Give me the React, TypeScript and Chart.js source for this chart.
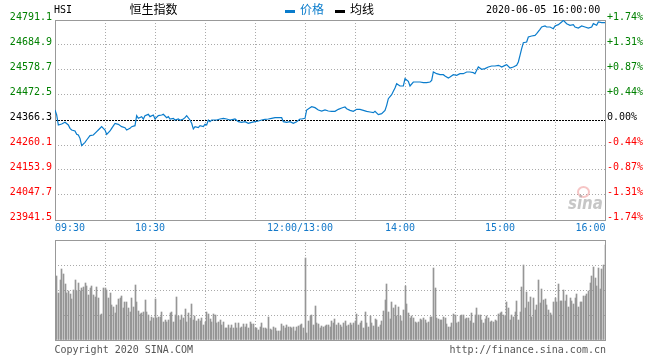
import React, { useEffect, useRef } from "react";
import { Chart, registerables } from "chart.js";

Chart.register(...registerables);

// ---------- data ----------
const PREV_CLOSE = 24366.3;
const priceTicks = [23941.5, 24047.7, 24153.9, 24260.1, 24366.3, 24472.5, 24578.7, 24684.9, 24791.1];
const gridMinutes = [0, 30, 60, 90, 120, 150, 180, 210, 240, 270, 300, 330];
const timeLabelMinutes = [0, 60, 150, 210, 270, 330];
const timeLabels = ["09:30", "10:30", "12:00/13:00", "14:00", "15:00", "16:00"];
const volumeTicks = [0, 25, 50, 75, 100];

// minutes into the trading session (09:30 = 0, 12:00/13:00 = 150, 16:00 = 330)
const priceMinute = [
  0, 1, 2, 4, 6, 8, 9, 10, 12, 13, 14, 15, 16, 18, 19, 21, 23, 25, 26, 28,
  29, 30, 31, 33, 34, 36, 38, 40, 42, 43, 45, 46, 48, 49, 50, 52, 53, 54, 56, 57,
  59, 60, 62, 64, 65, 67, 68, 69, 71, 72, 74, 75, 77, 78, 79, 81, 82, 83, 84, 86,
  87, 89, 90, 91, 92, 93, 94, 97, 99, 101, 103, 105, 107, 108, 110, 112, 114, 116, 118, 120,
  122, 124, 126, 128, 130, 132, 134, 136, 137, 139, 141, 143, 145, 147, 148, 150,
  151, 153, 154, 156, 158, 160, 162, 164, 166, 168, 170, 172, 174, 175, 177, 179, 181, 183, 185, 187,
  189, 191, 192, 194, 196, 198, 199, 200, 202, 203, 204, 205, 207, 209, 210, 212, 213, 215, 217, 219,
  221, 223, 225, 226, 227, 229, 231, 233, 234, 236, 237, 239, 241, 243, 245, 247, 249, 251, 252, 253,
  254, 256, 258, 260, 262, 264, 266, 267, 268, 270, 271, 273, 275, 277, 278, 279, 280, 281, 283, 284,
  286, 288, 289, 291, 292, 294, 295, 297, 299, 300, 302, 304, 305, 307, 309, 311, 312, 314, 316, 318,
  320, 322, 323, 325, 326, 328, 330,
];
const priceValue = [
  24408.8, 24387.5, 24345.1, 24349.3, 24356.4, 24345.1, 24330.9, 24323.8, 24319.6, 24305.4,
  24302.6, 24288.4, 24257.3, 24271.4, 24281.3, 24299.8, 24302.6, 24316.7, 24323.8, 24338.0,
  24330.9, 24323.8, 24305.4, 24319.6, 24330.9, 24352.1, 24347.9, 24338.0, 24333.7, 24323.8,
  24330.9, 24338.0, 24342.2, 24384.7, 24373.4, 24380.5, 24370.5, 24384.7, 24390.4, 24380.5,
  24387.5, 24370.5, 24384.7, 24387.5, 24390.4, 24376.2, 24380.5, 24370.5, 24373.4, 24366.3,
  24370.5, 24364.9, 24370.5, 24376.2, 24384.7, 24366.3, 24352.1, 24328.1, 24338.0, 24333.7,
  24342.2, 24338.0, 24347.9, 24345.1, 24366.3, 24359.2, 24366.3, 24366.3, 24370.5, 24373.4,
  24370.5, 24366.3, 24369.1, 24370.5, 24359.2, 24356.4, 24359.2, 24352.1, 24356.4, 24359.2,
  24362.1, 24366.3, 24369.1, 24370.5, 24373.4, 24376.2, 24376.2, 24376.2, 24359.2, 24356.4,
  24359.2, 24352.1, 24359.2, 24370.5, 24370.5, 24373.4,
  24408.8, 24418.7, 24422.9, 24418.7, 24408.8, 24404.5, 24408.8, 24404.5, 24403.1, 24403.1,
  24411.6, 24417.3, 24421.5, 24414.4, 24407.4, 24403.1, 24411.6, 24411.6, 24407.4, 24403.1,
  24400.3, 24397.4, 24403.1, 24389.0, 24393.2, 24407.4, 24428.6, 24456.9, 24473.9, 24488.1,
  24502.2, 24520.6, 24510.7, 24510.7, 24541.9, 24530.6, 24510.7, 24527.7, 24527.7, 24527.7,
  24524.9, 24524.9, 24527.7, 24534.8, 24570.2, 24563.1, 24558.9, 24558.9, 24553.2, 24544.7,
  24549.0, 24558.9, 24556.1, 24563.1, 24563.1, 24570.2, 24570.2, 24567.4, 24563.1, 24577.3,
  24591.4, 24581.5, 24584.4, 24591.4, 24595.7, 24595.7, 24598.5, 24595.7, 24591.4, 24598.5,
  24601.4, 24587.2, 24591.4, 24598.5, 24612.7, 24641.0, 24669.3, 24694.8, 24697.6, 24718.9,
  24723.1, 24726.0, 24733.0, 24751.5, 24761.4, 24765.6, 24761.4, 24761.4, 24754.3, 24765.6,
  24771.3, 24782.6, 24789.7, 24775.5, 24768.5, 24771.3, 24761.4, 24757.1, 24765.6, 24761.4,
  24757.1, 24761.4, 24775.5, 24768.5, 24782.6, 24779.8, 24779.8,
];

// volume per minute (relative units), 09:31–11:59
const morningVolume = [
  64, 47, 60, 71, 66, 56, 47, 49, 46,
  41, 50, 60, 49, 57, 49, 52, 53, 57,
  54, 45, 52, 54, 45, 43, 53, 42, 25,
  26, 52, 52, 50, 42, 47, 35, 33, 27,
  35, 41, 42, 44, 32, 38, 38, 32, 28,
  42, 33, 55, 38, 29, 26, 27, 28, 40,
  28, 25, 19, 23, 22, 41, 22, 23, 23,
  28, 18, 20, 18, 20, 27, 28, 18, 25, 43,
  24, 20, 25, 22, 31, 18, 27, 22, 36, 20,
  24, 19, 21, 19, 22, 15, 18, 28, 26, 21,
  18, 26, 25, 17, 18, 20, 15, 18, 12, 12,
  15, 12, 15, 12, 17, 12, 17, 12, 13, 16,
  13, 16, 12, 18, 16, 16, 12, 12, 10, 13,
  17, 12, 12, 11, 23, 11, 10, 13, 12, 9,
  9, 9, 16, 14, 12, 15, 13, 13, 12, 13,
  9, 13, 14, 15, 16, 12,
];
// volume per minute, 13:00–16:00
const afternoonVolume = [
  82, 7, 19, 24, 25, 15, 34, 17, 16, 12, 14, 13, 14, 15, 15,
  13, 19, 17, 21, 15, 17, 15, 13, 17, 19,
  14, 15, 17, 15, 17, 19, 26, 15, 17, 19,
  12, 28, 17, 13, 24, 17, 14, 21, 20, 13,
  15, 19, 29, 40, 56, 28, 21, 38, 32, 35,
  24, 33, 24, 19, 30, 54, 36, 27, 22, 24,
  22, 18, 17, 18, 21, 20, 22, 20, 17, 18,
  23, 23, 72, 52, 22, 21, 20, 20, 23, 22,
  16, 13, 13, 17, 26, 25, 17, 18, 24, 25,
  25, 21, 22, 22, 19, 27, 17, 25, 32, 25,
  25, 20, 17, 21, 24, 22, 18, 19, 18, 20,
  19, 26, 27, 28, 25, 24, 38, 32, 20, 25,
  23, 28, 39, 20, 28, 53, 75, 32, 48, 38,
  43, 23, 42, 30, 35, 60, 37, 51, 40, 41,
  35, 30, 27, 25, 38, 42, 38, 56, 39, 39,
  50, 39, 45, 33, 42, 39, 36, 42, 46, 33,
  38, 38, 44, 44, 46, 49, 57, 64, 73, 62,
  54, 72, 51, 71, 75, 95,
];

// ---------- styles ----------
const MONO = '"DejaVu Sans Mono", "Liberation Mono", monospace';
const CJK = '"Noto Sans CJK SC", "Noto Sans", sans-serif';
const BLUE = "#0a7ccc";
const LABEL_BLUE = "#1479c9";
const GRID = "#aaaaaa";
const FRAME = "#999999";
const VOL = "#969696";

const tickColor = (v: number) =>
  Math.abs(v - PREV_CLOSE) < 0.01 ? "#000000" : v > PREV_CLOSE ? "#008000" : "#ff0000";
const pctLabel = (v: number) => {
  const p = ((v - PREV_CLOSE) / PREV_CLOSE) * 100;
  if (Math.abs(p) < 0.005) return "0.00%";
  return (p > 0 ? "+" : "-") + Math.abs(p).toFixed(2) + "%";
};

const framePlugin = {
  id: "frame",
  beforeDatasetsDraw(chart: any) {
    const { ctx, chartArea } = chart;
    ctx.save();
    ctx.strokeStyle = FRAME;
    ctx.lineWidth = 1;
    ctx.strokeRect(
      Math.round(chartArea.left) + 0.5,
      Math.round(chartArea.top) + 0.5,
      Math.round(chartArea.right - chartArea.left),
      Math.round(chartArea.bottom - chartArea.top)
    );
    ctx.restore();
  },
};

// snap 1px volume bars to whole pixels so they stay crisp
const crispBarsPlugin = {
  id: "crispBars",
  beforeDatasetsDraw(chart: any) {
    chart.getSortedVisibleDatasetMetas().forEach((meta: any) => {
      meta.data.forEach((el: any) => {
        el.x = Math.floor(el.x) + 0.5;
        el.y = Math.round(el.y);
      });
    });
  },
};

const timeLabelPlugin = {
  id: "timeLabels",
  afterDraw(chart: any) {
    const { ctx, chartArea } = chart;
    const xs = chart.scales.x;
    ctx.save();
    ctx.font = `10px ${MONO}`;
    ctx.fillStyle = LABEL_BLUE;
    ctx.textBaseline = "middle";
    const y = chartArea.bottom + 8.5;
    timeLabelMinutes.forEach((m, i) => {
      const px = xs.getPixelForValue(m);
      if (i === 0) {
        ctx.textAlign = "left";
        ctx.fillText(timeLabels[i], px, y);
      } else if (i === timeLabelMinutes.length - 1) {
        ctx.textAlign = "right";
        ctx.fillText(timeLabels[i], px + 0.5, y);
      } else {
        ctx.textAlign = "center";
        ctx.fillText(timeLabels[i], px - 5, y);
      }
    });
    ctx.restore();
  },
};

const setTicks = (values: number[]) => (s: any) => {
  s.ticks = values.map((v) => ({ value: v }));
};

function mainConfig(): any {
  return {
    type: "line",
    data: {
      datasets: [
        {
          label: "价格",
          data: priceMinute.map((m, i) => ({ x: m, y: priceValue[i] })),
          borderColor: BLUE,
          borderWidth: 1.2,
          pointRadius: 0,
          tension: 0,
          fill: false,
          yAxisID: "y",
        },
      ],
    },
    options: {
      animation: false,
      responsive: false,
      maintainAspectRatio: false,
      events: [],
      layout: { padding: { top: 20, left: 0, right: 0, bottom: 0 } },
      plugins: { legend: { display: false }, tooltip: { enabled: false } },
      scales: {
        x: {
          type: "linear",
          min: 0,
          max: 330,
          position: "bottom",
          afterBuildTicks: setTicks(gridMinutes),
          ticks: { display: false },
          grid: { color: GRID, drawTicks: false, lineWidth: 1 },
          border: { display: false, dash: [1, 2] },
          afterFit: (s: any) => {
            s.height = 16;
          },
        },
        y: {
          type: "linear",
          position: "left",
          min: priceTicks[0],
          max: priceTicks[priceTicks.length - 1],
          afterBuildTicks: setTicks(priceTicks),
          ticks: {
            font: { family: MONO, size: 10 },
            color: (c: any) => tickColor(c.tick.value),
            padding: 3,
            labelOffset: -2.5,
            callback: (v: any) => Number(v).toFixed(1),
          },
          grid: {
            drawTicks: false,
            lineWidth: 1,
            color: (c: any) =>
              c.tick && Math.abs(c.tick.value - PREV_CLOSE) < 0.01 ? "#000000" : GRID,
          },
          border: {
            display: false,
            dash: (c: any) =>
              c.tick && Math.abs(c.tick.value - PREV_CLOSE) < 0.01 ? [2, 1] : [1, 2],
          },
          afterFit: (s: any) => {
            s.width = 55;
          },
        },
        y2: {
          type: "linear",
          position: "right",
          min: priceTicks[0],
          max: priceTicks[priceTicks.length - 1],
          afterBuildTicks: setTicks(priceTicks),
          ticks: {
            font: { family: MONO, size: 10 },
            color: (c: any) => tickColor(c.tick.value),
            padding: 2,
            labelOffset: -2.5,
            callback: (v: any) => pctLabel(Number(v)),
          },
          grid: { display: false, drawTicks: false },
          border: { display: false },
          afterFit: (s: any) => {
            s.width = 55;
          },
        },
      },
    },
    plugins: [framePlugin, timeLabelPlugin],
  };
}

function volumeConfig(): any {
  const data = [
    ...morningVolume.map((v, i) => ({ x: 1 + i, y: v })),
    ...afternoonVolume.map((v, i) => ({ x: 150 + i, y: v })),
  ];
  return {
    type: "bar",
    data: {
      datasets: [
        {
          label: "成交量",
          data,
          backgroundColor: VOL,
          borderWidth: 0,
          barThickness: 1,
        },
      ],
    },
    options: {
      animation: false,
      responsive: false,
      maintainAspectRatio: false,
      events: [],
      layout: { padding: { top: 4, left: 55, right: 55, bottom: 20 } },
      plugins: { legend: { display: false }, tooltip: { enabled: false } },
      scales: {
        x: {
          type: "linear",
          min: 0,
          max: 330,
          offset: false,
          afterBuildTicks: setTicks(gridMinutes),
          ticks: { display: false },
          grid: { color: GRID, drawTicks: false, offset: false, lineWidth: 1 },
          border: { display: false, dash: [1, 2] },
          afterFit: (s: any) => {
            s.height = 0;
          },
        },
        y: {
          type: "linear",
          min: 0,
          max: 100,
          afterBuildTicks: setTicks(volumeTicks),
          ticks: { display: false },
          grid: { color: GRID, drawTicks: false, lineWidth: 1 },
          border: { display: false, dash: [1, 2] },
          afterFit: (s: any) => {
            s.width = 0;
          },
        },
      },
    },
    plugins: [framePlugin, crispBarsPlugin],
  };
}

const txt = (extra: React.CSSProperties): React.CSSProperties => ({
  position: "absolute",
  whiteSpace: "nowrap",
  lineHeight: "12px",
  ...extra,
});

export default function App() {
  const mainRef = useRef<HTMLCanvasElement>(null);
  const volRef = useRef<HTMLCanvasElement>(null);

  useEffect(() => {
    const main = new Chart(mainRef.current as HTMLCanvasElement, mainConfig());
    const vol = new Chart(volRef.current as HTMLCanvasElement, volumeConfig());
    return () => {
      main.destroy();
      vol.destroy();
    };
  }, []);

  return (
    <div
      style={{
        position: "absolute",
        left: 0,
        top: 0,
        width: 660,
        height: 360,
        background: "#ffffff",
        overflow: "hidden",
      }}
    >
      <canvas
        ref={mainRef}
        width={660}
        height={236}
        style={{ position: "absolute", left: 0, top: 0, width: 660, height: 236 }}
      />
      <canvas
        ref={volRef}
        width={660}
        height={124}
        style={{ position: "absolute", left: 0, top: 236, width: 660, height: 124 }}
      />

      {/* header */}
      <span style={txt({ left: 54, top: 3.5, fontFamily: MONO, fontSize: 10, color: "#000" })}>HSI</span>
      <span style={txt({ left: 129.5, top: 3, fontFamily: CJK, fontSize: 12, color: "#000" })}>恒生指数</span>
      <div style={{ position: "absolute", left: 285, top: 10, width: 10, height: 3, background: BLUE }} />
      <span style={txt({ left: 300, top: 3, fontFamily: CJK, fontSize: 12, color: BLUE })}>价格</span>
      <div style={{ position: "absolute", left: 335, top: 10, width: 10, height: 3, background: "#000" }} />
      <span style={txt({ left: 350, top: 3, fontFamily: CJK, fontSize: 12, color: "#000" })}>均线</span>
      <span style={txt({ left: 486, top: 3.5, fontFamily: MONO, fontSize: 10, color: "#000" })}>
        2020-06-05 16:00:00
      </span>

      {/* watermark */}
      <div
        style={{
          position: "absolute",
          left: 577,
          top: 186,
          width: 9,
          height: 8,
          borderRadius: "50%",
          border: "2px solid rgba(230,90,90,0.35)",
        }}
      />
      <span
        style={txt({
          left: 568,
          top: 195,
          fontFamily: '"DejaVu Sans", sans-serif',
          fontSize: 15,
          fontWeight: "bold",
          fontStyle: "italic",
          color: "rgba(160,160,160,0.6)",
          lineHeight: "15px",
          transform: "scaleY(1.2)",
          transformOrigin: "left top",
        })}
      >
        sina
      </span>

      {/* footer */}
      <span style={txt({ left: 54.5, top: 344, fontFamily: MONO, fontSize: 10, color: "#555" })}>
        Copyright 2020 SINA.COM
      </span>
      <span style={txt({ right: 54, top: 344, fontFamily: MONO, fontSize: 10, color: "#555" })}>
        http://finance.sina.com.cn
      </span>
    </div>
  );
}
